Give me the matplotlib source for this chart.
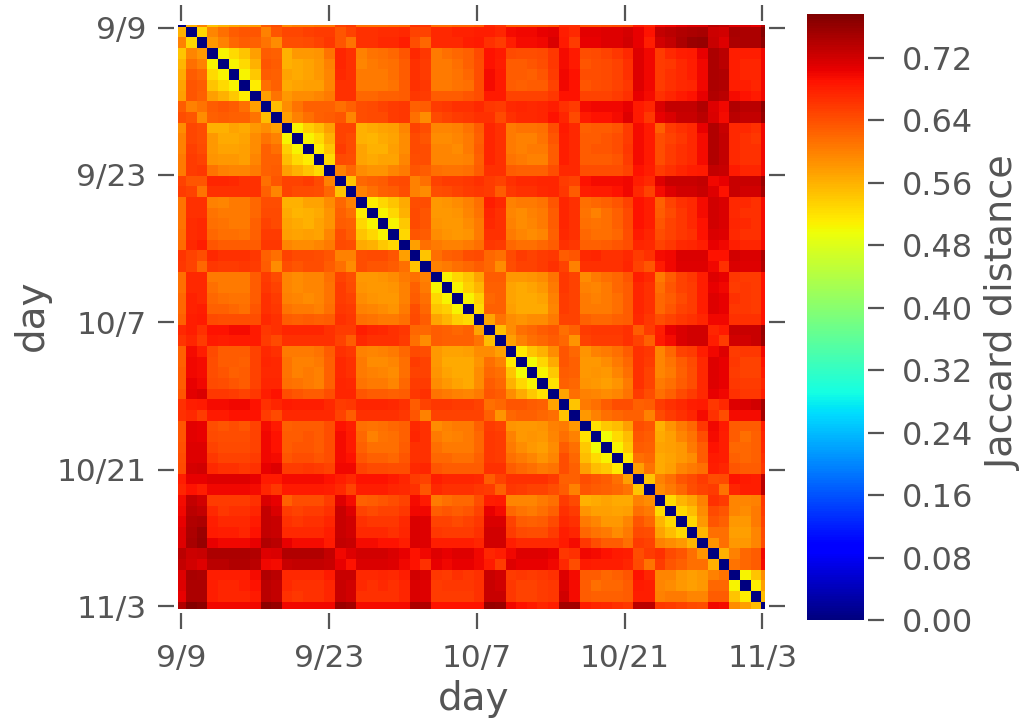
import matplotlib
matplotlib.use("Agg")
import matplotlib.pyplot as plt
import numpy as np

tick_days = [0, 14, 28, 42, 55]
tick_names = ["9/9", "9/23", "10/7", "10/21", "11/3"]
cbar_ticks = [0.0, 0.08, 0.16, 0.24, 0.32, 0.40, 0.48, 0.56, 0.64, 0.72]

# Jaccard distance x1000 for day i vs days i+1 .. 55
upper = [
    [560,600, 545,555,565,570,575, 630,640, 590,600,600,605,605, 650,655, 610,612,612,615,618, 662,660, 615,615,620,620,625, 670,662, 625,625,628,630,635, 665,665, 635,635,638,640,645, 680,675, 695,700,705,710,710, 735,730, 710,710,705, 740],
    [530, 595,615,630,635,635, 600,635, 648,648,652,655,655, 635,650, 665,665,668,668,672, 650,650, 672,672,678,678,680, 680,675, 695,700,700,705,708, 680,672, 708,708,710,712,718, 705,690, 728,735,742,745,748, 722,720, 748,745,745, 770],
    [580,600,620,630,625, 610,590, 640,640,645,650,660, 635,610, 665,665,670,670,680, 640,620, 670,670,670,680,685, 665,655, 680,695,695,700,715, 685,655, 705,705,710,710,720, 705,680, 720,730,745,755,760, 725,710, 745,745,745, 765],
    [505,525,545,575, 630,625, 560,580,580,585,610, 675,665, 600,610,615,620,635, 670,660, 605,615,620,625,645, 690,685, 645,640,640,645,660, 695,685, 640,645,650,660,670, 710,700, 655,670,680,685,705, 745,735, 680,680,680, 700],
    [505,525,560, 635,630, 560,565,570,580,600, 675,665, 595,605,610,615,630, 665,655, 605,605,615,625,640, 690,680, 630,630,635,640,660, 695,685, 635,640,645,650,665, 710,700, 655,660,670,680,700, 745,735, 680,675,675, 700],
    [505,540, 630,625, 570,565,570,580,595, 670,665, 605,605,605,615,630, 665,655, 605,605,610,620,640, 695,685, 630,630,625,635,655, 700,690, 640,640,645,650,665, 710,700, 655,665,670,680,700, 745,740, 680,675,675, 700],
    [510, 615,625, 565,570,575,575,595, 665,665, 605,605,605,610,630, 665,660, 605,605,610,615,640, 695,685, 630,625,630,630,650, 700,690, 635,640,645,650,660, 710,700, 655,665,670,675,700, 745,740, 680,680,675, 700],
    [575,610, 580,590,590,595,605, 665,665, 620,620,625,625,630, 660,655, 630,630,630,635,640, 685,685, 650,650,650,650,660, 690,690, 650,650,650,655,665, 705,695, 665,675,685,690,705, 740,735, 695,690,685, 700],
    [550, 590,610,625,625,625, 615,625, 640,645,650,655,660, 625,630, 655,660,665,665,670, 660,655, 670,675,670,675,680, 665,655, 695,700,700,700,705, 685,675, 715,730,730,730,740, 710,700, 740,735,735, 765],
    [575,600,615,625,630, 635,595, 640,645,645,655,660, 615,590, 645,650,655,660,665, 665,645, 665,670,670,675,690, 675,645, 685,690,690,695,710, 685,660, 705,715,725,725,735, 715,695, 735,730,730, 760],
    [505,535,550,575, 650,650, 560,565,570,575,595, 650,640, 595,595,600,610,630, 675,665, 605,610,610,615,640, 685,670, 625,630,630,635,655, 695,685, 625,655,665,670,705, 740,725, 670,670,665, 700],
    [505,525,560, 650,645, 560,555,565,570,590, 645,635, 590,590,595,605,625, 675,665, 605,600,600,610,635, 680,670, 630,630,635,640,655, 695,685, 640,650,660,670,695, 740,730, 670,665,660, 700],
    [510,545, 655,645, 570,560,560,575,590, 645,640, 595,595,590,605,630, 675,665, 605,600,605,605,630, 680,670, 630,635,635,640,660, 695,685, 640,655,665,670,695, 740,730, 670,665,665, 700],
    [525, 645,640, 570,565,570,570,595, 640,640, 595,595,595,600,625, 675,665, 610,605,600,600,630, 680,670, 630,630,630,635,655, 695,685, 640,655,665,670,695, 740,730, 670,665,665, 700],
    [600,620, 590,585,585,595,605, 635,630, 615,610,610,615,630, 665,665, 630,625,625,625,640, 670,670, 640,640,640,640,650, 690,680, 655,665,675,680,685, 730,725, 685,675,675, 700],
    [545, 620,625,630,640,645, 600,615, 650,655,655,660,665, 655,650, 665,670,670,675,675, 655,650, 690,695,695,695,700, 680,670, 710,725,725,725,730, 700,705, 725,725,725, 755],
    [600,615,625,630,640, 600,590, 640,645,650,655,660, 655,630, 660,665,665,670,675, 660,630, 680,685,685,690,700, 670,650, 695,710,720,720,725, 710,690, 725,720,720, 750],
    [510,530,545,565, 640,640, 580,585,590,600,615, 680,670, 600,605,605,610,635, 675,665, 615,620,625,635,650, 690,680, 625,650,665,670,695, 720,715, 670,670,665, 695],
    [505,530,560, 645,635, 580,580,585,595,610, 675,665, 595,590,600,605,630, 675,665, 610,600,615,625,645, 690,680, 630,645,660,670,695, 720,715, 670,665,665, 695],
    [505,540, 645,635, 585,580,580,590,605, 670,665, 600,590,595,605,630, 675,665, 615,610,615,625,645, 690,680, 635,650,660,670,690, 720,715, 675,670,665, 695],
    [530, 635,630, 590,585,580,585,605, 665,665, 605,595,590,595,625, 670,665, 620,615,615,620,640, 685,675, 640,650,660,665,690, 715,710, 670,665,665, 695],
    [575,615, 605,600,600,605,615, 660,655, 620,615,615,620,630, 665,660, 625,625,630,635,640, 675,670, 650,660,670,675,680, 705,700, 680,675,675, 695],
    [545, 615,625,630,640,645, 620,615, 645,655,650,655,660, 630,635, 670,675,665,665,670, 655,665, 695,700,715,715,715, 690,690, 720,715,715, 745],
    [600,605,615,620,630, 620,590, 640,650,650,655,665, 650,600, 665,665,665,665,675, 650,635, 685,700,710,710,710, 700,665, 715,710,710, 740],
    [505,530,545,570, 630,630, 580,580,585,590,610, 660,650, 590,605,615,620,635, 680,670, 605,630,650,660,680, 710,705, 660,655,655, 690],
    [505,535,555, 625,625, 570,565,570,580,605, 660,650, 600,595,605,620,630, 675,665, 615,635,650,655,680, 705,700, 655,660,655, 690],
    [505,535, 620,625, 570,565,565,570,600, 655,650, 605,600,605,615,630, 675,665, 620,630,645,655,680, 710,705, 665,660,655, 690],
    [525, 625,625, 575,565,565,565,595, 655,650, 605,605,605,615,630, 675,665, 620,635,650,655,680, 710,705, 660,660,655, 690],
    [570,610, 590,585,590,590,605, 650,650, 625,620,620,625,630, 670,660, 640,650,660,665,675, 700,700, 665,665,665, 690],
    [550, 590,615,620,630,635, 615,625, 655,660,660,660,665, 630,655, 680,705,715,720,720, 675,685, 725,725,725, 760],
    [575,600,615,620,630, 620,585, 650,655,655,655,665, 650,625, 685,695,715,720,720, 680,655, 720,720,725, 755],
    [515,545,560,590, 635,620, 585,600,605,615,630, 665,660, 595,620,650,655,680, 700,710, 655,660,660, 700],
    [500,530,565, 635,625, 580,580,590,605,620, 665,655, 595,610,630,645,670, 710,705, 660,650,650, 690],
    [505,540, 630,625, 580,585,580,595,615, 665,650, 595,605,625,640,670, 710,705, 655,650,650, 685],
    [520, 625,620, 585,580,575,585,605, 665,650, 605,615,630,640,670, 710,705, 660,655,655, 675],
    [570,615, 600,595,590,595,610, 655,640, 615,625,645,655,670, 705,700, 665,660,660, 680],
    [545, 605,615,630,640,640, 625,630, 655,665,670,680,685, 660,670, 710,715,720, 750],
    [580,600,615,620,625, 625,600, 645,655,665,675,695, 665,640, 695,695,695, 750],
    [520,540,550,575, 640,635, 560,585,605,620,660, 700,685, 630,630,630, 680],
    [500,525,550, 635,630, 565,575,595,610,640, 695,680, 630,615,625, 675],
    [505,540, 630,625, 570,575,580,605,630, 690,680, 620,620,625, 670],
    [515, 615,620, 565,570,580,590,630, 685,680, 625,620,625, 665],
    [575,610, 565,575,595,605,615, 680,675, 635,630,630, 660],
    [545, 600,615,635,645,655, 640,645, 690,685,680, 735],
    [590,605,620,640,650, 655,610, 675,680,680, 735],
    [525,555,570,600, 665,655, 595,595,600, 660],
    [530,550,590, 645,635, 595,590,605, 655],
    [530,580, 635,625, 580,580,605, 650],
    [555, 615,615, 575,575,595, 645],
    [585,615, 580,580,595, 640],
    [560, 600,620,630, 700],
    [610,620,630, 695],
    [505,545, 590],
    [510, 575],
    [550],
]


def px_axes(fig, left, top, right, bottom):
    W, H = fig.get_size_inches() * fig.dpi
    return fig.add_axes([left / W, 1 - bottom / H, (right - left) / W, (bottom - top) / H])


n = len(upper) + 1
dist = np.zeros((n, n))
for i, row in enumerate(upper):
    dist[i, i + 1:] = np.array(row) / 1000
    dist[i + 1:, i] = np.array(row) / 1000

grey = "#555555"
gap = 2.9  # ticks stand off from the image

fig = plt.figure(figsize=(10.21, 7.18), dpi=100)
ax = px_axes(fig, 178, 25, 765, 609)
im = ax.imshow(dist, cmap="jet", vmin=0, vmax=0.776, aspect="auto",
               interpolation="nearest", extent=(-0.54, 55.9, 55.57, -1.01))
ax.set_xlim(-0.284, 55.25)
ax.set_ylim(55.26, -0.26)
ax.set_xticks(tick_days, tick_names)
ax.set_yticks(tick_days, tick_names)
ax.tick_params(axis="both", length=11.5, width=1.6, color=grey, labelcolor=grey,
               labelsize=22.5, top=True, right=True, pad=8.5)
ax.tick_params(axis="x", pad=11)
for side in ax.spines:
    ax.spines[side].set_position(("outward", gap))
    ax.spines[side].set_visible(False)

cax = px_axes(fig, 807, 14, 864, 620)
cb = fig.colorbar(im, cax=cax, ticks=cbar_ticks)
cb.outline.set_visible(False)
cax.spines["right"].set_position(("outward", gap))
cax.set_yticklabels([f"{t:.2f}" for t in cbar_ticks])
cax.tick_params(axis="y", length=11.5, width=1.6, color=grey, labelcolor=grey,
                labelsize=23, pad=13)

fig.text(32 / 1021, 1 - 315 / 718, "day", rotation=90, ha="center", va="center",
         fontsize=28, color=grey)
fig.text(474 / 1021, 1 - 699 / 718, "day", ha="center", va="center",
         fontsize=28, color=grey)
fig.text(1004 / 1021, 1 - 313 / 718, "Jaccard distance", rotation=90, ha="center",
         va="center", fontsize=27.5, color=grey)

fig.savefig("out.png", dpi=100)
